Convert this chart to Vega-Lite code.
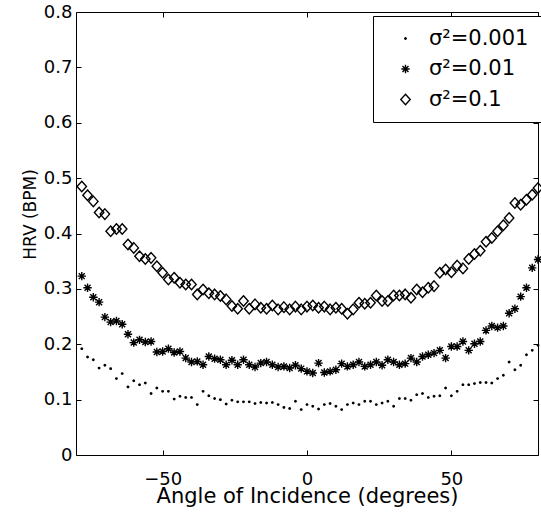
{
  "$schema": "https://vega.github.io/schema/vega-lite/v6.json",
  "width": 462,
  "height": 443,
  "autosize": {"type": "none"},
  "padding": {"left": 76, "top": 12, "right": 3, "bottom": 57},
  "background": "white",

  "data": {"values": [
    {"angle": -78, "hrv": 0.192, "noise": "σ²=0.001"}, {"angle": -76, "hrv": 0.177, "noise": "σ²=0.001"},
    {"angle": -74, "hrv": 0.172, "noise": "σ²=0.001"}, {"angle": -72, "hrv": 0.157, "noise": "σ²=0.001"},
    {"angle": -70, "hrv": 0.162, "noise": "σ²=0.001"}, {"angle": -68, "hrv": 0.156, "noise": "σ²=0.001"},
    {"angle": -66, "hrv": 0.138, "noise": "σ²=0.001"}, {"angle": -64, "hrv": 0.147, "noise": "σ²=0.001"},
    {"angle": -62, "hrv": 0.123, "noise": "σ²=0.001"}, {"angle": -60, "hrv": 0.134, "noise": "σ²=0.001"},
    {"angle": -58, "hrv": 0.127, "noise": "σ²=0.001"}, {"angle": -56, "hrv": 0.130, "noise": "σ²=0.001"},
    {"angle": -54, "hrv": 0.111, "noise": "σ²=0.001"}, {"angle": -52, "hrv": 0.121, "noise": "σ²=0.001"},
    {"angle": -50, "hrv": 0.115, "noise": "σ²=0.001"}, {"angle": -48, "hrv": 0.115, "noise": "σ²=0.001"},
    {"angle": -46, "hrv": 0.101, "noise": "σ²=0.001"}, {"angle": -44, "hrv": 0.106, "noise": "σ²=0.001"},
    {"angle": -42, "hrv": 0.104, "noise": "σ²=0.001"}, {"angle": -40, "hrv": 0.104, "noise": "σ²=0.001"},
    {"angle": -38, "hrv": 0.091, "noise": "σ²=0.001"}, {"angle": -36, "hrv": 0.115, "noise": "σ²=0.001"},
    {"angle": -34, "hrv": 0.107, "noise": "σ²=0.001"}, {"angle": -32, "hrv": 0.102, "noise": "σ²=0.001"},
    {"angle": -30, "hrv": 0.100, "noise": "σ²=0.001"}, {"angle": -28, "hrv": 0.092, "noise": "σ²=0.001"},
    {"angle": -26, "hrv": 0.099, "noise": "σ²=0.001"}, {"angle": -24, "hrv": 0.096, "noise": "σ²=0.001"},
    {"angle": -22, "hrv": 0.096, "noise": "σ²=0.001"}, {"angle": -20, "hrv": 0.096, "noise": "σ²=0.001"},
    {"angle": -18, "hrv": 0.093, "noise": "σ²=0.001"}, {"angle": -16, "hrv": 0.095, "noise": "σ²=0.001"},
    {"angle": -14, "hrv": 0.094, "noise": "σ²=0.001"}, {"angle": -12, "hrv": 0.095, "noise": "σ²=0.001"},
    {"angle": -10, "hrv": 0.091, "noise": "σ²=0.001"}, {"angle": -8, "hrv": 0.086, "noise": "σ²=0.001"},
    {"angle": -6, "hrv": 0.084, "noise": "σ²=0.001"}, {"angle": -4, "hrv": 0.097, "noise": "σ²=0.001"},
    {"angle": -2, "hrv": 0.082, "noise": "σ²=0.001"}, {"angle": 0, "hrv": 0.091, "noise": "σ²=0.001"},
    {"angle": 2, "hrv": 0.088, "noise": "σ²=0.001"}, {"angle": 4, "hrv": 0.083, "noise": "σ²=0.001"},
    {"angle": 6, "hrv": 0.091, "noise": "σ²=0.001"}, {"angle": 8, "hrv": 0.093, "noise": "σ²=0.001"},
    {"angle": 10, "hrv": 0.088, "noise": "σ²=0.001"}, {"angle": 12, "hrv": 0.082, "noise": "σ²=0.001"},
    {"angle": 14, "hrv": 0.091, "noise": "σ²=0.001"}, {"angle": 16, "hrv": 0.094, "noise": "σ²=0.001"},
    {"angle": 18, "hrv": 0.091, "noise": "σ²=0.001"}, {"angle": 20, "hrv": 0.097, "noise": "σ²=0.001"},
    {"angle": 22, "hrv": 0.097, "noise": "σ²=0.001"}, {"angle": 24, "hrv": 0.091, "noise": "σ²=0.001"},
    {"angle": 26, "hrv": 0.094, "noise": "σ²=0.001"}, {"angle": 28, "hrv": 0.097, "noise": "σ²=0.001"},
    {"angle": 30, "hrv": 0.088, "noise": "σ²=0.001"}, {"angle": 32, "hrv": 0.102, "noise": "σ²=0.001"},
    {"angle": 34, "hrv": 0.102, "noise": "σ²=0.001"}, {"angle": 36, "hrv": 0.099, "noise": "σ²=0.001"},
    {"angle": 38, "hrv": 0.109, "noise": "σ²=0.001"}, {"angle": 40, "hrv": 0.111, "noise": "σ²=0.001"},
    {"angle": 42, "hrv": 0.104, "noise": "σ²=0.001"}, {"angle": 44, "hrv": 0.106, "noise": "σ²=0.001"},
    {"angle": 46, "hrv": 0.107, "noise": "σ²=0.001"}, {"angle": 48, "hrv": 0.121, "noise": "σ²=0.001"},
    {"angle": 50, "hrv": 0.107, "noise": "σ²=0.001"}, {"angle": 52, "hrv": 0.115, "noise": "σ²=0.001"},
    {"angle": 54, "hrv": 0.127, "noise": "σ²=0.001"}, {"angle": 56, "hrv": 0.127, "noise": "σ²=0.001"},
    {"angle": 58, "hrv": 0.129, "noise": "σ²=0.001"}, {"angle": 60, "hrv": 0.131, "noise": "σ²=0.001"},
    {"angle": 62, "hrv": 0.131, "noise": "σ²=0.001"}, {"angle": 64, "hrv": 0.130, "noise": "σ²=0.001"},
    {"angle": 66, "hrv": 0.138, "noise": "σ²=0.001"}, {"angle": 68, "hrv": 0.144, "noise": "σ²=0.001"},
    {"angle": 70, "hrv": 0.168, "noise": "σ²=0.001"}, {"angle": 72, "hrv": 0.154, "noise": "σ²=0.001"},
    {"angle": 74, "hrv": 0.162, "noise": "σ²=0.001"}, {"angle": 76, "hrv": 0.181, "noise": "σ²=0.001"},
    {"angle": 78, "hrv": 0.189, "noise": "σ²=0.001"}, {"angle": 80, "hrv": 0.198, "noise": "σ²=0.001"},

    {"angle": -78, "hrv": 0.323, "noise": "σ²=0.01"}, {"angle": -76, "hrv": 0.302, "noise": "σ²=0.01"},
    {"angle": -74, "hrv": 0.285, "noise": "σ²=0.01"}, {"angle": -72, "hrv": 0.276, "noise": "σ²=0.01"},
    {"angle": -70, "hrv": 0.249, "noise": "σ²=0.01"}, {"angle": -68, "hrv": 0.240, "noise": "σ²=0.01"},
    {"angle": -66, "hrv": 0.242, "noise": "σ²=0.01"}, {"angle": -64, "hrv": 0.236, "noise": "σ²=0.01"},
    {"angle": -62, "hrv": 0.218, "noise": "σ²=0.01"}, {"angle": -60, "hrv": 0.203, "noise": "σ²=0.01"},
    {"angle": -58, "hrv": 0.208, "noise": "σ²=0.01"}, {"angle": -56, "hrv": 0.204, "noise": "σ²=0.01"},
    {"angle": -54, "hrv": 0.205, "noise": "σ²=0.01"}, {"angle": -52, "hrv": 0.186, "noise": "σ²=0.01"},
    {"angle": -50, "hrv": 0.187, "noise": "σ²=0.01"}, {"angle": -48, "hrv": 0.192, "noise": "σ²=0.01"},
    {"angle": -46, "hrv": 0.185, "noise": "σ²=0.01"}, {"angle": -44, "hrv": 0.187, "noise": "σ²=0.01"},
    {"angle": -42, "hrv": 0.175, "noise": "σ²=0.01"}, {"angle": -40, "hrv": 0.168, "noise": "σ²=0.01"},
    {"angle": -38, "hrv": 0.169, "noise": "σ²=0.01"}, {"angle": -36, "hrv": 0.163, "noise": "σ²=0.01"},
    {"angle": -34, "hrv": 0.178, "noise": "σ²=0.01"}, {"angle": -32, "hrv": 0.174, "noise": "σ²=0.01"},
    {"angle": -30, "hrv": 0.172, "noise": "σ²=0.01"}, {"angle": -28, "hrv": 0.163, "noise": "σ²=0.01"},
    {"angle": -26, "hrv": 0.171, "noise": "σ²=0.01"}, {"angle": -24, "hrv": 0.163, "noise": "σ²=0.01"},
    {"angle": -22, "hrv": 0.172, "noise": "σ²=0.01"}, {"angle": -20, "hrv": 0.163, "noise": "σ²=0.01"},
    {"angle": -18, "hrv": 0.159, "noise": "σ²=0.01"}, {"angle": -16, "hrv": 0.166, "noise": "σ²=0.01"},
    {"angle": -14, "hrv": 0.168, "noise": "σ²=0.01"}, {"angle": -12, "hrv": 0.163, "noise": "σ²=0.01"},
    {"angle": -10, "hrv": 0.159, "noise": "σ²=0.01"}, {"angle": -8, "hrv": 0.160, "noise": "σ²=0.01"},
    {"angle": -6, "hrv": 0.157, "noise": "σ²=0.01"}, {"angle": -4, "hrv": 0.162, "noise": "σ²=0.01"},
    {"angle": -2, "hrv": 0.156, "noise": "σ²=0.01"}, {"angle": 0, "hrv": 0.151, "noise": "σ²=0.01"},
    {"angle": 2, "hrv": 0.148, "noise": "σ²=0.01"}, {"angle": 4, "hrv": 0.166, "noise": "σ²=0.01"},
    {"angle": 6, "hrv": 0.149, "noise": "σ²=0.01"}, {"angle": 8, "hrv": 0.151, "noise": "σ²=0.01"},
    {"angle": 10, "hrv": 0.154, "noise": "σ²=0.01"}, {"angle": 12, "hrv": 0.165, "noise": "σ²=0.01"},
    {"angle": 14, "hrv": 0.160, "noise": "σ²=0.01"}, {"angle": 16, "hrv": 0.163, "noise": "σ²=0.01"},
    {"angle": 18, "hrv": 0.168, "noise": "σ²=0.01"}, {"angle": 20, "hrv": 0.160, "noise": "σ²=0.01"},
    {"angle": 22, "hrv": 0.163, "noise": "σ²=0.01"}, {"angle": 24, "hrv": 0.168, "noise": "σ²=0.01"},
    {"angle": 26, "hrv": 0.162, "noise": "σ²=0.01"}, {"angle": 28, "hrv": 0.172, "noise": "σ²=0.01"},
    {"angle": 30, "hrv": 0.168, "noise": "σ²=0.01"}, {"angle": 32, "hrv": 0.163, "noise": "σ²=0.01"},
    {"angle": 34, "hrv": 0.165, "noise": "σ²=0.01"}, {"angle": 36, "hrv": 0.175, "noise": "σ²=0.01"},
    {"angle": 38, "hrv": 0.168, "noise": "σ²=0.01"}, {"angle": 40, "hrv": 0.178, "noise": "σ²=0.01"},
    {"angle": 42, "hrv": 0.181, "noise": "σ²=0.01"}, {"angle": 44, "hrv": 0.184, "noise": "σ²=0.01"},
    {"angle": 46, "hrv": 0.189, "noise": "σ²=0.01"}, {"angle": 48, "hrv": 0.175, "noise": "σ²=0.01"},
    {"angle": 50, "hrv": 0.196, "noise": "σ²=0.01"}, {"angle": 52, "hrv": 0.196, "noise": "σ²=0.01"},
    {"angle": 54, "hrv": 0.205, "noise": "σ²=0.01"}, {"angle": 56, "hrv": 0.189, "noise": "σ²=0.01"},
    {"angle": 58, "hrv": 0.201, "noise": "σ²=0.01"}, {"angle": 60, "hrv": 0.205, "noise": "σ²=0.01"},
    {"angle": 62, "hrv": 0.225, "noise": "σ²=0.01"}, {"angle": 64, "hrv": 0.233, "noise": "σ²=0.01"},
    {"angle": 66, "hrv": 0.230, "noise": "σ²=0.01"}, {"angle": 68, "hrv": 0.233, "noise": "σ²=0.01"},
    {"angle": 70, "hrv": 0.256, "noise": "σ²=0.01"}, {"angle": 72, "hrv": 0.264, "noise": "σ²=0.01"},
    {"angle": 74, "hrv": 0.286, "noise": "σ²=0.01"}, {"angle": 76, "hrv": 0.302, "noise": "σ²=0.01"},
    {"angle": 78, "hrv": 0.338, "noise": "σ²=0.01"}, {"angle": 80, "hrv": 0.353, "noise": "σ²=0.01"},

    {"angle": -78, "hrv": 0.485, "noise": "σ²=0.1"}, {"angle": -76, "hrv": 0.469, "noise": "σ²=0.1"},
    {"angle": -74, "hrv": 0.458, "noise": "σ²=0.1"}, {"angle": -72, "hrv": 0.438, "noise": "σ²=0.1"},
    {"angle": -70, "hrv": 0.435, "noise": "σ²=0.1"}, {"angle": -68, "hrv": 0.404, "noise": "σ²=0.1"},
    {"angle": -66, "hrv": 0.408, "noise": "σ²=0.1"}, {"angle": -64, "hrv": 0.408, "noise": "σ²=0.1"},
    {"angle": -62, "hrv": 0.380, "noise": "σ²=0.1"}, {"angle": -60, "hrv": 0.374, "noise": "σ²=0.1"},
    {"angle": -58, "hrv": 0.359, "noise": "σ²=0.1"}, {"angle": -56, "hrv": 0.354, "noise": "σ²=0.1"},
    {"angle": -54, "hrv": 0.356, "noise": "σ²=0.1"}, {"angle": -52, "hrv": 0.341, "noise": "σ²=0.1"},
    {"angle": -50, "hrv": 0.329, "noise": "σ²=0.1"}, {"angle": -48, "hrv": 0.317, "noise": "σ²=0.1"},
    {"angle": -46, "hrv": 0.320, "noise": "σ²=0.1"}, {"angle": -44, "hrv": 0.311, "noise": "σ²=0.1"},
    {"angle": -42, "hrv": 0.308, "noise": "σ²=0.1"}, {"angle": -40, "hrv": 0.308, "noise": "σ²=0.1"},
    {"angle": -38, "hrv": 0.290, "noise": "σ²=0.1"}, {"angle": -36, "hrv": 0.299, "noise": "σ²=0.1"},
    {"angle": -34, "hrv": 0.292, "noise": "σ²=0.1"}, {"angle": -32, "hrv": 0.290, "noise": "σ²=0.1"},
    {"angle": -30, "hrv": 0.287, "noise": "σ²=0.1"}, {"angle": -28, "hrv": 0.281, "noise": "σ²=0.1"},
    {"angle": -26, "hrv": 0.269, "noise": "σ²=0.1"}, {"angle": -24, "hrv": 0.264, "noise": "σ²=0.1"},
    {"angle": -22, "hrv": 0.278, "noise": "σ²=0.1"}, {"angle": -20, "hrv": 0.264, "noise": "σ²=0.1"},
    {"angle": -18, "hrv": 0.272, "noise": "σ²=0.1"}, {"angle": -16, "hrv": 0.266, "noise": "σ²=0.1"},
    {"angle": -14, "hrv": 0.264, "noise": "σ²=0.1"}, {"angle": -12, "hrv": 0.270, "noise": "σ²=0.1"},
    {"angle": -10, "hrv": 0.263, "noise": "σ²=0.1"}, {"angle": -8, "hrv": 0.267, "noise": "σ²=0.1"},
    {"angle": -6, "hrv": 0.263, "noise": "σ²=0.1"}, {"angle": -4, "hrv": 0.268, "noise": "σ²=0.1"},
    {"angle": -2, "hrv": 0.263, "noise": "σ²=0.1"}, {"angle": 0, "hrv": 0.268, "noise": "σ²=0.1"},
    {"angle": 2, "hrv": 0.270, "noise": "σ²=0.1"}, {"angle": 4, "hrv": 0.266, "noise": "σ²=0.1"},
    {"angle": 6, "hrv": 0.268, "noise": "σ²=0.1"}, {"angle": 8, "hrv": 0.263, "noise": "σ²=0.1"},
    {"angle": 10, "hrv": 0.266, "noise": "σ²=0.1"}, {"angle": 12, "hrv": 0.264, "noise": "σ²=0.1"},
    {"angle": 14, "hrv": 0.255, "noise": "σ²=0.1"}, {"angle": 16, "hrv": 0.263, "noise": "σ²=0.1"},
    {"angle": 18, "hrv": 0.275, "noise": "σ²=0.1"}, {"angle": 20, "hrv": 0.273, "noise": "σ²=0.1"},
    {"angle": 22, "hrv": 0.275, "noise": "σ²=0.1"}, {"angle": 24, "hrv": 0.288, "noise": "σ²=0.1"},
    {"angle": 26, "hrv": 0.278, "noise": "σ²=0.1"}, {"angle": 28, "hrv": 0.278, "noise": "σ²=0.1"},
    {"angle": 30, "hrv": 0.288, "noise": "σ²=0.1"}, {"angle": 32, "hrv": 0.288, "noise": "σ²=0.1"},
    {"angle": 34, "hrv": 0.290, "noise": "σ²=0.1"}, {"angle": 36, "hrv": 0.284, "noise": "σ²=0.1"},
    {"angle": 38, "hrv": 0.299, "noise": "σ²=0.1"}, {"angle": 40, "hrv": 0.294, "noise": "σ²=0.1"},
    {"angle": 42, "hrv": 0.302, "noise": "σ²=0.1"}, {"angle": 44, "hrv": 0.305, "noise": "σ²=0.1"},
    {"angle": 46, "hrv": 0.329, "noise": "σ²=0.1"}, {"angle": 48, "hrv": 0.335, "noise": "σ²=0.1"},
    {"angle": 50, "hrv": 0.330, "noise": "σ²=0.1"}, {"angle": 52, "hrv": 0.342, "noise": "σ²=0.1"},
    {"angle": 54, "hrv": 0.337, "noise": "σ²=0.1"}, {"angle": 56, "hrv": 0.354, "noise": "σ²=0.1"},
    {"angle": 58, "hrv": 0.363, "noise": "σ²=0.1"}, {"angle": 60, "hrv": 0.369, "noise": "σ²=0.1"},
    {"angle": 62, "hrv": 0.385, "noise": "σ²=0.1"}, {"angle": 64, "hrv": 0.392, "noise": "σ²=0.1"},
    {"angle": 66, "hrv": 0.404, "noise": "σ²=0.1"}, {"angle": 68, "hrv": 0.415, "noise": "σ²=0.1"},
    {"angle": 70, "hrv": 0.428, "noise": "σ²=0.1"}, {"angle": 72, "hrv": 0.455, "noise": "σ²=0.1"},
    {"angle": 74, "hrv": 0.452, "noise": "σ²=0.1"}, {"angle": 76, "hrv": 0.461, "noise": "σ²=0.1"},
    {"angle": 78, "hrv": 0.470, "noise": "σ²=0.1"}, {"angle": 80, "hrv": 0.482, "noise": "σ²=0.1"}
  ]},

  "layer": [
    {
      "mark": {"type": "point", "filled": false, "color": "black", "opacity": 1, "size": 110, "strokeWidth": 1.4},
      "encoding": {
        "x": {
          "field": "angle", "type": "quantitative",
          "scale": {"domain": [-80, 80], "nice": false, "zero": false},
          "axis": {
            "values": [-50, 0, 50],
            "title": "Angle of Incidence (degrees)",
            "labelBaseline": "alphabetic", "labelPadding": 29,
            "titleFontSize": 21, "titleBaseline": "alphabetic", "titleY": 52
          }
        },
        "y": {
          "field": "hrv", "type": "quantitative",
          "scale": {"domain": [0, 0.8], "nice": false},
          "axis": {
            "values": [0, 0.1, 0.2, 0.3, 0.4, 0.5, 0.6, 0.7, 0.8],
            "format": ".1~f",
            "title": "HRV (BPM)",
            "labelPadding": 4,
            "titleFontSize": 17, "titleBaseline": "alphabetic", "titleX": -46, "titleY": 202
          }
        },
        "shape": {
          "field": "noise", "type": "nominal",
          "scale": {
            "domain": ["σ²=0.001", "σ²=0.01", "σ²=0.1"],
            "range": [
              "M-0.14,0A0.14,0.14 0 1,0 0.14,0A0.14,0.14 0 1,0 -0.14,0Z",
              "M-0.8,0L0.8,0M0,-0.8L0,0.8M-0.57,-0.57L0.57,0.57M-0.57,0.57L0.57,-0.57",
              "M0,-1L0.9,0L0,1L-0.9,0Z"
            ]
          },
          "legend": {
            "title": null,
            "orient": "none", "legendX": 297, "legendY": 4,
            "strokeColor": "black", "fillColor": "white",
            "padding": 12, "rowPadding": 8.5,
            "symbolOffset": 10, "labelOffset": 13,
            "symbolSize": 110, "symbolStrokeColor": "black", "symbolFillColor": "transparent", "symbolStrokeWidth": 1.4,
            "labelFontSize": 21, "labelColor": "black"
          }
        }
      }
    },
    {
      "mark": {"type": "point", "opacity": 0},
      "encoding": {
        "x": {
          "field": "angle", "type": "quantitative",
          "axis": {"orient": "top", "values": [-50, 0, 50], "labels": false, "title": null}
        },
        "y": {
          "field": "hrv", "type": "quantitative",
          "axis": {"orient": "right", "values": [0, 0.1, 0.2, 0.3, 0.4, 0.5, 0.6, 0.7, 0.8], "labels": false, "title": null}
        }
      }
    }
  ],
  "resolve": {"axis": {"x": "independent", "y": "independent"}},

  "config": {
    "font": "DejaVu Sans",
    "view": {"stroke": "black", "strokeWidth": 1},
    "axis": {
      "grid": false, "domain": false, "offset": -5,
      "tickColor": "black", "tickSize": 5, "tickWidth": 1,
      "labelColor": "black", "labelFontSize": 18, "labelFlush": false, "labelOverlap": false,
      "titleColor": "black", "titleFontWeight": "normal"
    }
  }
}
